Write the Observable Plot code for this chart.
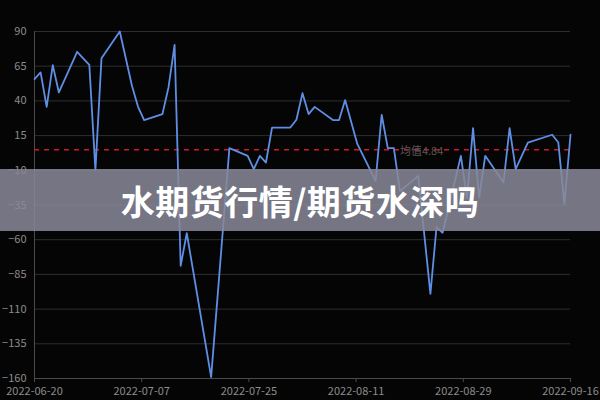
<!DOCTYPE html>
<html>
<head>
<meta charset="utf-8">
<script src="https://cdn.jsdelivr.net/npm/d3@7"></script>
<script src="https://cdn.jsdelivr.net/npm/@observablehq/plot@0.6"></script>
<style>
  html, body { margin: 0; padding: 0; background: #050505; }
  #wrap { position: relative; width: 600px; height: 400px; overflow: hidden; background: #050505; }
  #banner {
    position: absolute; left: 0; top: 169px; width: 600px; height: 62px;
    background: rgba(136, 136, 152, 0.86);
    display: flex; align-items: center; justify-content: center;
    color: #ffffff; font-family: "Noto Sans CJK SC", sans-serif; font-weight: 700;
    font-size: 34px; letter-spacing: 0.5px;
  }
</style>
</head>
<body>
<div id="wrap"><div id="chart"></div><div id="banner">水期货行情/期货水深吗</div></div>
<script>
// Data (vertices)
const dates = [
  "2022-06-20","2022-06-21","2022-06-22","2022-06-23","2022-06-24","2022-06-27","2022-06-29","2022-06-30",
  "2022-07-01","2022-07-04","2022-07-06","2022-07-07","2022-07-08","2022-07-11","2022-07-12","2022-07-13",
  "2022-07-14","2022-07-15","2022-07-19","2022-07-22","2022-07-25","2022-07-26","2022-07-27","2022-07-28",
  "2022-07-29","2022-08-01","2022-08-02","2022-08-03","2022-08-04","2022-08-05","2022-08-08","2022-08-09",
  "2022-08-10","2022-08-12","2022-08-15","2022-08-16","2022-08-17","2022-08-18","2022-08-19","2022-08-22",
  "2022-08-24","2022-08-25","2022-08-26","2022-08-29","2022-08-30","2022-08-31","2022-09-01","2022-09-02",
  "2022-09-05","2022-09-06","2022-09-07","2022-09-09","2022-09-13","2022-09-14","2022-09-15","2022-09-16"
];
const values = [
  55.7, 60.5, 35.7, 65.8, 46.1, 75.4, 66, -9.9,
  70.8, 90, 50.9, 35.7, 26.2, 30.5, 49.7, 80.4,
  -78.8, -55.3, -159, 6.0, 0.4, -9.1, 0.4, -4.4,
  20.8, 20.8, 26.4, 45.6, 30.5, 35.7, 26.2, 26.2,
  40.6, 9.0, -17.6, 30, 6, 6, -25, -14,
  -99, -51, -55, 0.4, -30, 20.4, -29.6, 0.4,
  -18.8, 20.4, -9.1, 10, 15.6, 10, -34.4, 15.6
];
const meanValue = 4.84;
const meanLabel = "均值4.84";
const yTicks = [90, 65, 40, 15, -10, -35, -60, -85, -110, -135, -160];
const xTickLabels = ["2022-06-20","2022-07-07","2022-07-25","2022-08-11","2022-08-29","2022-09-16"];

const parse = d3.utcParse("%Y-%m-%d");
const data = dates.map((d, i) => ({date: parse(d), value: values[i]}));
const start = parse(dates[0]), end = parse(dates[dates.length - 1]);
// ticks split the time domain into equal parts
const xTicks = xTickLabels.map((_, i) => new Date(+start + i * (end - start) / (xTickLabels.length - 1)));

const font = "'Noto Sans CJK SC', 'Noto Sans', sans-serif";

const chart = Plot.plot({
  width: 600,
  height: 400,
  marginLeft: 34,
  marginRight: 30,
  marginTop: 31,
  marginBottom: 22,
  style: {background: "#050505", fontFamily: font, fontSize: "11px", color: "#8c8c8c"},
  x: {type: "utc", domain: [start, end]},
  y: {domain: [-160, 90]},
  marks: [
    Plot.gridY(yTicks, {stroke: "#2e2e2e", strokeOpacity: 1, strokeWidth: 1}),
    Plot.ruleY([-160], {stroke: "#4a4a4a"}),
    Plot.ruleX([start], {stroke: "#4a4a4a"}),
    Plot.axisY(yTicks, {tickSize: 0, tickPadding: 8, fill: "#8c8c8c", fontSize: 11, label: null}),
    Plot.axisX(xTicks, {tickSize: 4, tickPadding: 5, stroke: "#4a4a4a", fill: "#8c8c8c", fontSize: 11, label: null,
      tickFormat: (d, i) => xTickLabels[i]}),
    Plot.ruleY([meanValue], {stroke: "#d0182c", strokeWidth: 1.4, strokeDasharray: "5,5"}),
    Plot.text([meanValue], {x: () => parse("2022-08-19"), y: d => d, text: () => meanLabel, fill: "#5a5a5a",
      fontSize: 11, textAnchor: "start", dy: 2}),
    Plot.line(data, {x: "date", y: "value", stroke: "#5f8fe4", strokeWidth: 1.8, curve: "linear"})
  ]
});
document.getElementById("chart").appendChild(chart);
</script>
</body>
</html>
